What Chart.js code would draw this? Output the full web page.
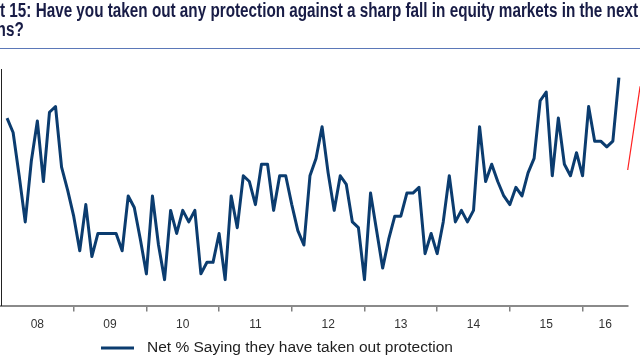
<!DOCTYPE html>
<html>
<head>
<meta charset="utf-8">
<script src="https://cdn.jsdelivr.net/npm/chart.js@4.4.1/dist/chart.umd.min.js"></script>
<style>
  html, body { margin: 0; padding: 0; background: #fff; }
  #wrap { position: relative; width: 640px; height: 360px; overflow: hidden; }
  #title { position: absolute; left: 0; top: 1px; font-family: "Liberation Sans Narrow", "Liberation Sans", Arial, sans-serif;
           font-weight: bold; font-size: 20px; line-height: 19px; color: #181c46; white-space: nowrap; transform-origin: 0 0; }
  #title div { display: block; }
  #rule { position: absolute; left: 0; top: 48px; width: 640px; border-top: 1px solid #5b78b8; }
  canvas { position: absolute; left: 0; top: 0; }
</style>
</head>
<body>
<div id="wrap">
  <canvas id="chart" width="640" height="360"></canvas>
  <div id="title">
    <div><span id="pre">Char</span><span id="vis">t 15: Have you taken out any protection against a sharp fall in equity markets in the next</span> 3</div>
    <div id="line2"><span id="pre2">mont</span>hs?</div>
  </div>
  <div id="rule"></div>
</div>
<script>
// x axis: months counted from Jan 2008 (0); survey data runs Feb 2008 .. Jul 2016
const yearLabels = ['08', '09', '10', '11', '12', '13', '14', '15', '16'];
const firstMonth = 1;
const axisEndMonth = 103.5;

// Net % saying they have taken out protection
const netProtection = [
  -16, -21, -36, -52, -31, -17, -38, -14, -12, -33, -41,      // 2008
  -50, -62, -46, -64, -56, -56, -56, -56, -62, -43, -47, -58, // 2009
  -70, -43, -60, -72, -48, -56, -48, -52, -48, -70, -66, -66, // 2010
  -56, -72, -43, -54, -36, -38, -46, -32, -32, -48, -36, -36, // 2011
  -46, -55, -60, -36, -30, -19, -35, -48, -36, -39, -52, -54, // 2012
  -72, -42, -55, -68, -58, -50, -50, -42, -42, -40, -63, -56, // 2013
  -63, -52, -36, -52, -48, -52, -48, -19, -38, -32, -38, -43, // 2014
  -46, -40, -43, -35, -30, -10, -7, -36, -16, -32, -36, -28,  // 2015
  -36, -12, -24, -24, -26, -24, -2                            // 2016
];

// red line cut off at the right edge
const trendMonths = [103.45, 105.5];
const trendValues = [-34, -5];

// fit the cropped title the way it sits in the picture
(function fitTitle() {
  const title = document.getElementById('title');
  const pre = document.getElementById('pre').getBoundingClientRect().width;
  const vis = document.getElementById('vis').getBoundingClientRect().width;
  const pre2 = document.getElementById('pre2').getBoundingClientRect().width;
  const scale = 638 / vis;
  title.style.transform = 'translateX(' + (-pre * scale) + 'px) scaleX(' + scale + ')';
  // second line is cut through the stem of the "h"
  document.getElementById('line2').style.marginLeft = (pre - pre2 - 4.5) + 'px';
})();

const legendPlugin = {
  id: 'bottomLegend',
  afterDraw(chart) {
    const ctx = chart.ctx;
    const ds = chart.data.datasets[0];
    ctx.save();
    ctx.strokeStyle = ds.borderColor;
    ctx.lineWidth = 3;
    ctx.beginPath();
    ctx.moveTo(101, 348);
    ctx.lineTo(134, 348);
    ctx.stroke();
    ctx.font = '13px "Liberation Sans", Arial, sans-serif';
    let w = ctx.measureText(ds.label).width;
    let size = 13 * 306 / w;
    ctx.font = size.toFixed(2) + 'px "Liberation Sans", Arial, sans-serif';
    ctx.fillStyle = '#1e1e1e';
    ctx.textBaseline = 'middle';
    ctx.fillText(ds.label, 147, 348);
    ctx.restore();
  }
};

const points = netProtection.map((v, i) => ({ x: firstMonth + i, y: v }));
const trendPoints = trendMonths.map((m, i) => ({ x: m, y: trendValues[i] }));

new Chart(document.getElementById('chart'), {
  type: 'line',
  data: {
    datasets: [
      { label: 'Net % Saying they have taken out protection', data: points, borderColor: '#0b3c6f',
        borderWidth: 3, pointRadius: 0, tension: 0, fill: false, borderJoinStyle: 'round' },
      { label: 'trend', data: trendPoints, borderColor: '#ff2020', borderWidth: 1.2,
        pointRadius: 0, fill: false, clip: false }
    ]
  },
  options: {
    responsive: false,
    animation: false,
    layout: { padding: { left: 1, right: 12, top: 69, bottom: 22 } },
    plugins: { legend: { display: false }, tooltip: { enabled: false } },
    scales: {
      x: {
        type: 'linear', min: 0, max: axisEndMonth,
        afterBuildTicks: axis => { axis.ticks = yearLabels.slice(1).map((_, k) => ({ value: 12 * (k + 1) })); },
        ticks: { display: false },
        grid: { drawOnChartArea: false, drawTicks: true, tickLength: 6, color: '#808080', lineWidth: 1.5 },
        border: { color: '#8a8a8a', width: 2 }
      },
      xLabels: {
        type: 'linear', position: 'bottom', min: 0, max: axisEndMonth,
        afterBuildTicks: axis => {
          axis.ticks = yearLabels.map((_, k) => ({ value: (12 * k + Math.min(12 * k + 12, axisEndMonth)) / 2 }));
        },
        ticks: {
          callback: (v, i) => yearLabels[i], autoSkip: false, maxRotation: 0, padding: 6,
          color: '#333', font: { family: '"Liberation Sans Narrow", "Liberation Sans", Arial, sans-serif', size: 12 }
        },
        grid: { display: false, drawTicks: false },
        border: { display: false }
      },
      y: {
        min: -81, max: 1,
        ticks: { display: false },
        grid: { display: false, drawTicks: false },
        border: { color: '#222', width: 1 }
      }
    }
  },
  plugins: [legendPlugin]
});
</script>
</body>
</html>
